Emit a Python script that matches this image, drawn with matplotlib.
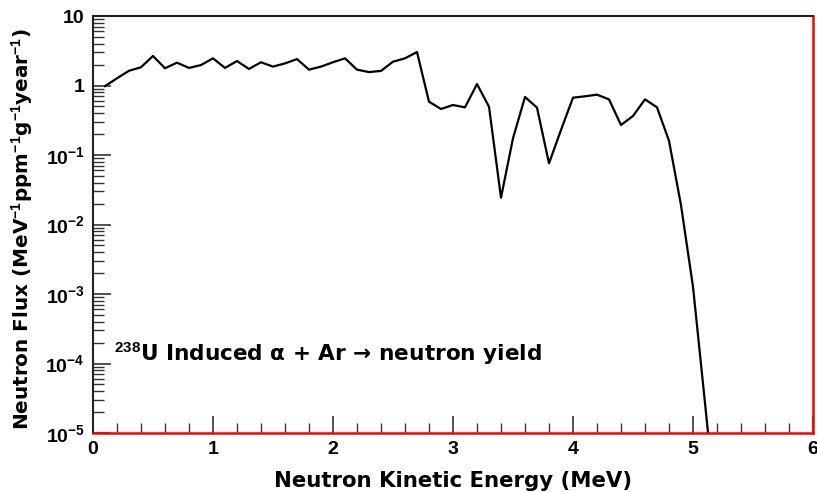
import matplotlib
matplotlib.use("Agg")
import matplotlib.pyplot as plt
from matplotlib.ticker import FixedLocator, FuncFormatter, MultipleLocator, LogLocator, NullFormatter

plt.rcParams['font.family'] = ['Liberation Sans', 'DejaVu Sans']
plt.rcParams['font.weight'] = 'bold'
plt.rcParams['mathtext.fontset'] = 'custom'
plt.rcParams['mathtext.rm'] = 'Liberation Sans:bold'
plt.rcParams['mathtext.bf'] = 'Liberation Sans:bold'
plt.rcParams['mathtext.it'] = 'Liberation Sans:bold'
plt.rcParams['mathtext.sf'] = 'Liberation Sans:bold'

energy = [0.1, 0.2, 0.3, 0.4, 0.5, 0.6, 0.7, 0.8, 0.9, 1.0,
          1.1, 1.2, 1.3, 1.4, 1.5, 1.6, 1.7, 1.8, 1.9, 2.0,
          2.1, 2.2, 2.3, 2.4, 2.5, 2.6, 2.7, 2.8, 2.9, 3.0,
          3.1, 3.2, 3.3, 3.4, 3.5, 3.6, 3.7, 3.8, 3.9, 4.0,
          4.1, 4.2, 4.3, 4.4, 4.5, 4.6, 4.7, 4.8, 4.9, 5.0,
          5.1, 5.2]
flux = [0.98, 1.27, 1.63, 1.83, 2.66, 1.77, 2.13, 1.79, 1.97, 2.46,
        1.79, 2.25, 1.73, 2.16, 1.87, 2.08, 2.40, 1.69, 1.87, 2.16,
        2.46, 1.69, 1.56, 1.62, 2.20, 2.46, 3.03, 0.585, 0.459, 0.524,
        0.485, 1.05, 0.495, 0.0243, 0.174, 0.684, 0.48, 0.0758, 0.229, 0.668,
        0.699, 0.738, 0.632, 0.27, 0.364, 0.632, 0.485, 0.160, 0.019, 1.27e-3,
        2.7e-5, 5.5e-7]

ytick_vals = [1e-5, 1e-4, 1e-3, 1e-2, 1e-1, 1, 10]
ytick_labels = ['$10^{-5}$', '$10^{-4}$', '$10^{-3}$', '$10^{-2}$', '$10^{-1}$', '1', '10']
xlabel = 'Neutron Kinetic Energy (MeV)'
ylabel = 'Neutron Flux (MeV$^{-1}$ppm$^{-1}$g$^{-1}$year$^{-1}$)'
annotation = '$^{238}$U Induced α + Ar → neutron yield'

fig = plt.figure(figsize=(8.17, 4.92), dpi=100)
ax = fig.add_axes([93/817, 1-433/492, 720/817, 417/492])

ax.plot(energy, flux, color='black', lw=1.6)
ax.set_yscale('log')
ax.set_xlim(0, 6)
ax.set_ylim(1e-5, 10)

ax.xaxis.set_major_locator(MultipleLocator(1))
ax.xaxis.set_minor_locator(MultipleLocator(0.2))
ax.yaxis.set_major_locator(FixedLocator(ytick_vals))
ax.yaxis.set_major_formatter(FuncFormatter(lambda v, p: ytick_labels[ytick_vals.index(min(ytick_vals, key=lambda t: abs(t - v)))]))
ax.yaxis.set_minor_locator(LogLocator(base=10, subs=range(2, 10), numticks=20))
ax.yaxis.set_minor_formatter(NullFormatter())

ax.tick_params(axis='both', which='both', direction='in', top=False, right=False, colors='#333333', labelcolor='black')
ax.tick_params(axis='x', which='major', length=12, width=1.2, labelsize=14, pad=6)
ax.tick_params(axis='x', which='minor', length=7, width=1.0)
ax.tick_params(axis='y', which='major', length=13, width=1.2, labelsize=14, pad=6)
ax.tick_params(axis='y', which='minor', length=8, width=1.0)

for s in ['top', 'left']:
    ax.spines[s].set_color('#222222')
    ax.spines[s].set_linewidth(1.5)
for s in ['bottom', 'right']:
    ax.spines[s].set_color('red')
    ax.spines[s].set_linewidth(1.8)

for lbl in ax.get_xticklabels() + ax.get_yticklabels():
    lbl.set_fontweight('bold')

label_font = ['DejaVu Sans', 'Liberation Sans']
ax.set_xlabel(xlabel, fontsize=15.3, fontweight='bold', labelpad=9, family=label_font)
ax.set_ylabel(ylabel, fontsize=14.4, fontweight='bold', family=label_font)
ax.yaxis.set_label_coords(-0.08, 0.49)

ax.text(114, 492 - 361, annotation, transform=None, fontsize=15.6, fontweight='bold',
        va='baseline', ha='left', family=label_font)

fig.savefig('out.png', dpi=100)
